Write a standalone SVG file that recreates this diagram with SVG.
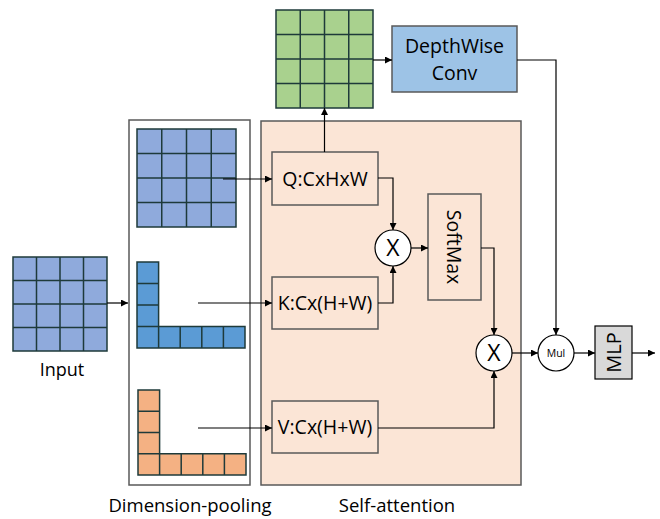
<svg xmlns="http://www.w3.org/2000/svg" width="660" height="519" viewBox="0 0 660 519">
<style>
text{font-family:"Open Sans","Liberation Sans",sans-serif;fill:#000}
.cell{stroke:#1E3A3A;stroke-width:1.5}
.grid{stroke:#1E3A3A;stroke-width:1.5;fill:none}
.box{stroke:#595959;stroke-width:1.5}
.wire{stroke:#000;stroke-width:1.2;fill:none}
.lbl{font-size:19.5px}
.x{font-size:23px}
.cap{font-size:18.5px}
</style>
<defs>
<marker id="ah" viewBox="0 0 10 10" refX="10" refY="5" markerWidth="7" markerHeight="7" markerUnits="userSpaceOnUse" orient="auto">
<path d="M0,0 L10,5 L0,10 z" fill="#000"/>
</marker>
</defs>
<rect width="660" height="519" fill="#fff"/>

<g id="self-attention-panel">
<rect x="261" y="121" width="260" height="364" fill="#FBE5D6" class="box"/>
</g>
<g id="dimension-pooling-panel">
<rect x="129" y="120" width="121" height="365" fill="#fff" class="box"/>
</g>

<g id="input">
<rect x="13" y="257" width="94" height="94" fill="#8FAADC" class="cell"/>
<path class="grid" d="M36.5,257V351M60,257V351M83.5,257V351M13,280.5H107M13,304H107M13,327.5H107"/>
<text x="62" y="376" text-anchor="middle" font-size="18">Input</text>
</g>

<g id="q-pool">
<rect x="137" y="129" width="99" height="98" fill="#8FAADC" class="cell"/>
<path class="grid" d="M161.75,129V227M186.5,129V227M211.25,129V227M137,153.5H236M137,178H236M137,202.5H236"/>
</g>

<g id="k-pool">
<path d="M137,262H158.6V326.5H245V348H137Z" fill="#5B9BD5" class="cell"/>
<path class="grid" d="M137,283.5H158.6M137,305H158.6M137,326.5H158.6M158.6,326.5V348M180.2,326.5V348M201.8,326.5V348M223.4,326.5V348"/>
</g>

<g id="v-pool">
<path d="M138,390H159.6V453.75H246V475H138Z" fill="#F4B183" class="cell"/>
<path class="grid" d="M138,411.25H159.6M138,432.5H159.6M138,453.75H159.6M159.6,453.75V475M181.2,453.75V475M202.8,453.75V475M224.4,453.75V475"/>
</g>

<g id="green-grid">
<rect x="276" y="10" width="97" height="98" fill="#A9D18E" class="cell"/>
<path class="grid" d="M300.25,10V108M324.5,10V108M348.75,10V108M276,34.5H373M276,59H373M276,83.5H373"/>
</g>

<g id="depthwise">
<rect x="392" y="26" width="125" height="66" fill="#9DC3E6" class="box"/>
<text x="454.5" y="53" text-anchor="middle" class="lbl">DepthWise</text>
<text x="454.5" y="80" text-anchor="middle" class="lbl">Conv</text>
</g>

<g id="q-box">
<rect x="272" y="152" width="106" height="53" fill="#FBE5D6" class="box"/>
<text x="325" y="185.5" text-anchor="middle" class="lbl">Q:CxHxW</text>
</g>
<g id="k-box">
<rect x="272" y="277" width="106" height="52" fill="#FBE5D6" class="box"/>
<text x="325" y="310" text-anchor="middle" class="lbl">K:Cx(H+W)</text>
</g>
<g id="v-box">
<rect x="272" y="401" width="106" height="52" fill="#FBE5D6" class="box"/>
<text x="325" y="434" text-anchor="middle" class="lbl">V:Cx(H+W)</text>
</g>

<g id="mult1">
<circle cx="393" cy="248" r="18" fill="#fff" stroke="#000" stroke-width="1.2"/>
<text x="393" y="256" text-anchor="middle" class="x">X</text>
</g>
<g id="softmax">
<rect x="428" y="194" width="53" height="106" fill="#FBE5D6" class="box"/>
<text transform="translate(447,247) rotate(90)" text-anchor="middle" class="lbl">SoftMax</text>
</g>
<g id="mult2">
<circle cx="494" cy="353" r="18" fill="#fff" stroke="#000" stroke-width="1.2"/>
<text x="494" y="361" text-anchor="middle" class="x">X</text>
</g>
<g id="mul">
<circle cx="556" cy="353" r="18" fill="#fff" stroke="#000" stroke-width="1.2"/>
<text x="556" y="357" text-anchor="middle" font-size="10.5">Mul</text>
</g>
<g id="mlp">
<rect x="595" y="326" width="37" height="53" fill="#D9D9D9" stroke="#000" stroke-width="1.2"/>
<text transform="translate(621,352.5) rotate(-90)" text-anchor="middle" font-size="20">MLP</text>
</g>

<g id="labels">
<text x="190" y="512" text-anchor="middle" class="cap">Dimension-pooling</text>
<text x="397" y="512" text-anchor="middle" class="cap">Self-attention</text>
</g>

<g id="connectors">
<path class="wire" d="M107,303H128" marker-end="url(#ah)"/>
<path class="wire" d="M223,179H272" marker-end="url(#ah)"/>
<path class="wire" d="M198,303H272" marker-end="url(#ah)"/>
<path class="wire" d="M198,428H272" marker-end="url(#ah)"/>
<path class="wire" d="M324.5,152V108" marker-end="url(#ah)"/>
<path class="wire" d="M373,60H392" marker-end="url(#ah)"/>
<path class="wire" d="M378,178H393V230" marker-end="url(#ah)"/>
<path class="wire" d="M378,303H393V266" marker-end="url(#ah)"/>
<path class="wire" d="M411,248H428" marker-end="url(#ah)"/>
<path class="wire" d="M481,248H494V335" marker-end="url(#ah)"/>
<path class="wire" d="M378,428H494V371" marker-end="url(#ah)"/>
<path class="wire" d="M512,353H538" marker-end="url(#ah)"/>
<path class="wire" d="M517,60H556V335" marker-end="url(#ah)"/>
<path class="wire" d="M574,353H595" marker-end="url(#ah)"/>
<path class="wire" d="M632,353H655" marker-end="url(#ah)"/>
</g>
</svg>
